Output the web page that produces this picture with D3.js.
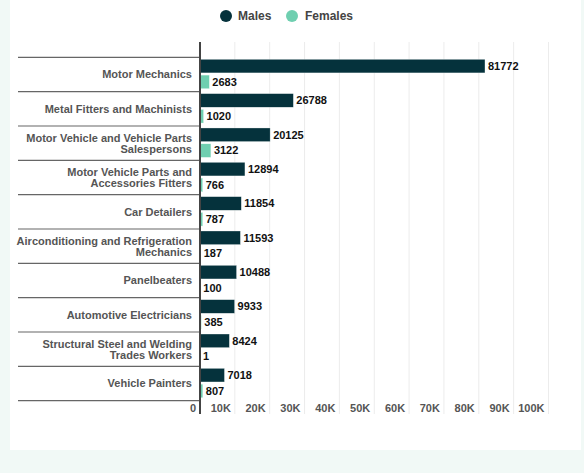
<!DOCTYPE html>
<html>
<head>
<meta charset="utf-8">
<script src="https://cdn.jsdelivr.net/npm/d3@7"></script>
<style>
  html, body { margin: 0; padding: 0; background: #f1f9f6; }
  svg { display: block; }
  text { font-family: "Liberation Sans", Arial, Helvetica, sans-serif; font-weight: bold; }
</style>
</head>
<body>
<script>
// Top occupations by gender
const categories = [
  "Motor Mechanics",
  "Metal Fitters and Machinists",
  "Motor Vehicle and Vehicle Parts Salespersons",
  "Motor Vehicle Parts and Accessories Fitters",
  "Car Detailers",
  "Airconditioning and Refrigeration Mechanics",
  "Panelbeaters",
  "Automotive Electricians",
  "Structural Steel and Welding Trades Workers",
  "Vehicle Painters"
];
const males   = [81772, 26788, 20125, 12894, 11854, 11593, 10488, 9933, 8424, 7018];
const females = [2683, 1020, 3122, 766, 787, 187, 100, 385, 1, 807];
const seriesNames = ["Males", "Females"];
const seriesColors = ["#05323c", "#6fcfb0"];
const xTicks = [0, 10000, 20000, 30000, 40000, 50000, 60000, 70000, 80000, 90000, 100000];

const W = 584, H = 473;
const svg = d3.select("body").append("svg").attr("width", W).attr("height", H);

// white card
svg.append("rect").attr("x", 10).attr("y", 0).attr("width", 571).attr("height", 450).attr("fill", "#fff");

const x = d3.scaleLinear().domain([0, 100000]).range([200, 548.5]);
const y = d3.scaleBand().domain(categories).range([57.3, 400.7]).padding(0);

const plotTop = 42, plotBottom = 414;

// vertical grid lines
svg.append("g").selectAll("line").data(xTicks.slice(1)).join("line")
  .attr("x1", d => x(d)).attr("x2", d => x(d))
  .attr("y1", plotTop).attr("y2", plotBottom)
  .attr("stroke", "#ececec").attr("stroke-width", 1);

// tick labels
const fmt = d => d === 0 ? "0" : (d / 1000) + "K";
svg.append("g").selectAll("text").data(xTicks).join("text")
  .attr("x", d => x(d) - 4).attr("y", 412)
  .attr("text-anchor", "end")
  .attr("font-size", 11).attr("fill", "#555")
  .text(fmt);

// category separators
const seps = categories.map(c => y(c)).concat([y.range()[1]]);
svg.append("g").selectAll("line").data(seps).join("line")
  .attr("x1", 18).attr("x2", 200)
  .attr("y1", d => d).attr("y2", d => d)
  .attr("stroke", "#666").attr("stroke-width", 1.2);

// category labels, wrapped to fit the left margin
const labelG = svg.append("g");
categories.forEach(c => {
  const t = labelG.append("text")
    .attr("x", 192).attr("text-anchor", "end")
    .attr("font-size", 11).attr("fill", "#555");
  const words = c.split(" ");
  const lines = [];
  let line = [];
  const probe = t.append("tspan");
  words.forEach(w => {
    const test = line.concat([w]).join(" ");
    probe.text(test);
    if (probe.node().getComputedTextLength() > 178 && line.length) {
      lines.push(line.join(" "));
      line = [w];
    } else {
      line.push(w);
    }
  });
  lines.push(line.join(" "));
  probe.remove();
  const cy = y(c) + y.bandwidth() / 2;
  const lh = 11;
  lines.forEach((l, i) => {
    t.append("tspan").attr("x", 192)
      .attr("y", cy + (i - (lines.length - 1) / 2) * lh)
      .attr("dy", "0.35em")
      .text(l);
  });
});

// bars
const barH = 13.6;
const rows = categories.map((c, i) => ({ c, m: males[i], f: females[i] }));
const barsG = svg.append("g");
[["m", 2, 0], ["f", 17.8, 1]].forEach(([key, off, si]) => {
  barsG.selectAll("rect." + key).data(rows).join("rect")
    .attr("class", key)
    .attr("x", x(0))
    .attr("y", d => y(d.c) + off)
    .attr("width", d => x(d[key]) - x(0))
    .attr("height", barH)
    .attr("fill", seriesColors[si])
    .attr("stroke", "#fff").attr("stroke-width", 0.5).attr("stroke-opacity", 0.6);
  barsG.selectAll("text." + key).data(rows).join("text")
    .attr("class", key)
    .attr("x", d => x(d[key]) + 3)
    .attr("y", d => y(d.c) + off + barH / 2)
    .attr("dy", "0.35em")
    .attr("font-size", 11).attr("fill", "#111")
    .text(d => d[key]);
});

// y axis line
svg.append("line")
  .attr("x1", x(0)).attr("x2", x(0))
  .attr("y1", plotTop).attr("y2", plotBottom)
  .attr("stroke", "#444").attr("stroke-width", 2);

// legend
const legend = svg.append("g");
const legendItems = [{ name: seriesNames[0], cx: 226, tx: 238 }, { name: seriesNames[1], cx: 292, tx: 305 }];
legendItems.forEach((d, i) => {
  legend.append("circle").attr("cx", d.cx).attr("cy", 16).attr("r", 6).attr("fill", seriesColors[i]);
  legend.append("text").attr("x", d.tx).attr("y", 16).attr("dy", "0.35em")
    .attr("font-size", 12).attr("fill", "#444").text(d.name);
});
</script>
</body>
</html>
